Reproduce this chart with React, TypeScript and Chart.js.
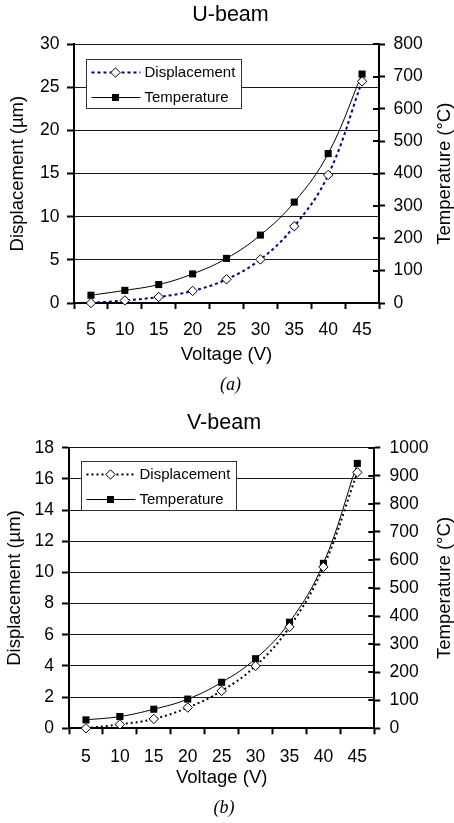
import React, { useEffect, useRef } from 'react';
import { Chart, registerables } from 'chart.js';

Chart.register(...registerables);

// Supply voltage categories shared by both beams
const voltageLabels = ['5', '10', '15', '20', '25', '30', '35', '40', '45'];

// U-beam actuator: tip displacement (µm) and peak temperature (°C)
const uBeamDisplacement = [0, 0.3, 0.7, 1.4, 2.75, 5.05, 8.9, 14.85, 25.7];
const uBeamTemperature = [24, 39, 57, 90, 138, 210, 312, 462, 708];

// V-beam actuator: tip displacement (µm) and peak temperature (°C)
const vBeamDisplacement = [0, 0.25, 0.6, 1.33, 2.4, 4.0, 6.5, 10.35, 16.42];
const vBeamTemperature = [30, 42, 68, 104, 164, 248, 378, 588, 944];

const SANS = '"Liberation Sans", Arial, Helvetica, sans-serif';
const SERIF = '"Liberation Serif", "Times New Roman", serif';

type Panel = {
  title: string;
  caption: string;
  displacement: number[];
  temperature: number[];
  dispMax: number;
  dispStep: number;
  tempMax: number;
  dispColor: string;
  dispDash: number[];
  top: number;
  height: number;
  padLeft: number;
  padRight: number;
  titlePad: { top: number; bottom: number };
  captionPad: { top: number; bottom: number };
  leftWidth: number;
  rightWidth: number;
  xHeight: number;
  leftTitlePad: number;
  leftTickPad: number;
  rightTickPad: number;
  xTickPad: number;
  xTitlePad: number;
  rightTitleX: number;
  legendDx: number;
  legendDy: number;
};

const panels: Panel[] = [
  {
    title: 'U-beam',
    caption: '(a)',
    displacement: uBeamDisplacement,
    temperature: uBeamTemperature,
    dispMax: 30,
    dispStep: 5,
    tempMax: 800,
    dispColor: '#000080',
    dispDash: [3, 3],
    top: 0,
    height: 410,
    padLeft: 7,
    padRight: 0,
    titlePad: { top: 2.1, bottom: 16.4 },
    captionPad: { top: 0, bottom: 13.5 },
    leftWidth: 67,
    rightWidth: 75,
    xHeight: 71.9,
    leftTitlePad: 0,
    leftTickPad: 7.6,
    rightTickPad: 8.6,
    xTickPad: 10.8,
    xTitlePad: 8.5,
    rightTitleX: 445,
    legendDx: 12,
    legendDy: 14.7,
  },
  {
    title: 'V-beam',
    caption: '(b)',
    displacement: vBeamDisplacement,
    temperature: vBeamTemperature,
    dispMax: 18,
    dispStep: 2,
    tempMax: 1000,
    dispColor: '#000000',
    dispDash: [2, 3],
    top: 410,
    height: 413,
    padLeft: 0,
    padRight: 6,
    titlePad: { top: 0, bottom: 11.9 },
    captionPad: { top: 0, bottom: 3.9 },
    leftWidth: 69,
    rightWidth: 73.7,
    xHeight: 69.2,
    leftTitlePad: 3.4,
    leftTickPad: 8,
    rightTickPad: 9.2,
    xTickPad: 12,
    xTitlePad: 8.1,
    rightTitleX: 445,
    legendDx: 11.7,
    legendDy: 13,
  },
];

const WIDTH = 454;

function drawDiamond(ctx: CanvasRenderingContext2D, x: number, y: number, r: number) {
  ctx.beginPath();
  ctx.moveTo(x, y - r);
  ctx.lineTo(x + r, y);
  ctx.lineTo(x, y + r);
  ctx.lineTo(x - r, y);
  ctx.closePath();
  ctx.fillStyle = '#fff';
  ctx.fill();
  ctx.strokeStyle = '#000';
  ctx.lineWidth = 1;
  ctx.stroke();
}

function drawSquare(ctx: CanvasRenderingContext2D, x: number, y: number, h: number) {
  ctx.fillStyle = '#000';
  ctx.fillRect(x - h, y - h, 2 * h, 2 * h);
}

function makeExtras(p: Panel) {
  return {
    id: 'beamExtras',
    afterDatasetsDraw(chart: any) {
      const ctx: CanvasRenderingContext2D = chart.ctx;
      const ca = chart.chartArea;
      const right = chart.scales.yTemp;

      // inner half of the cross ticks on the temperature axis
      ctx.save();
      ctx.strokeStyle = '#000';
      ctx.lineWidth = 2;
      right.ticks.forEach((_: any, i: number) => {
        const y = Math.round(right.getPixelForTick(i));
        ctx.beginPath();
        ctx.moveTo(ca.right - 6, y);
        ctx.lineTo(ca.right, y);
        ctx.stroke();
      });
      ctx.restore();

      // boxed legend inside the plot
      const bx = Math.round(ca.left + p.legendDx) + 0.5;
      const by = Math.round(ca.top + p.legendDy) + 0.5;
      const bw = 155;
      const bh = 49;
      ctx.save();
      ctx.fillStyle = '#fff';
      ctx.fillRect(bx, by, bw, bh);
      ctx.strokeStyle = '#333';
      ctx.lineWidth = 1;
      ctx.strokeRect(bx, by, bw, bh);
      const rows = [13, 38];
      chart.data.datasets.forEach((ds: any, i: number) => {
        const y = by + rows[i];
        ctx.save();
        ctx.strokeStyle = ds.borderColor;
        ctx.lineWidth = ds.borderWidth;
        ctx.setLineDash(ds.borderDash || []);
        ctx.beginPath();
        ctx.moveTo(bx + 5, y);
        ctx.lineTo(bx + 54, y);
        ctx.stroke();
        ctx.restore();
        if (ds.pointStyle === 'rectRot') drawDiamond(ctx, bx + 29, y, 4.7);
        else drawSquare(ctx, bx + 29, y, 3.5);
        ctx.fillStyle = '#000';
        ctx.font = `15px ${SANS}`;
        ctx.textAlign = 'left';
        ctx.textBaseline = 'middle';
        ctx.fillText(ds.label, bx + 58, y + 0.5);
      });
      ctx.restore();

      // right-hand axis title, reading bottom to top
      ctx.save();
      ctx.translate(p.rightTitleX, (ca.top + ca.bottom) / 2);
      ctx.rotate(-Math.PI / 2);
      ctx.fillStyle = '#000';
      ctx.font = `18.5px ${SANS}`;
      ctx.textAlign = 'center';
      ctx.textBaseline = 'middle';
      ctx.fillText('Temperature (°C)', 0, 0);
      ctx.restore();
    },
  };
}

const plainNumber = (v: any) => String(v);

function BeamChart({ p }: { p: Panel }) {
  const ref = useRef<HTMLCanvasElement | null>(null);

  useEffect(() => {
    if (!ref.current) return;
    const tickFont = { family: SANS, size: 17.5 };
    const axisTitleFont = { family: SANS, size: 18.5 };
    const chart = new Chart(ref.current, {
      type: 'line',
      data: {
        labels: voltageLabels,
        datasets: [
          {
            label: 'Displacement',
            data: p.displacement,
            yAxisID: 'yDisp',
            borderColor: p.dispColor,
            borderWidth: 2,
            borderDash: p.dispDash,
            tension: 0.4,
            pointStyle: 'rectRot',
            pointRadius: 4.7,
            pointBackgroundColor: '#fff',
            pointBorderColor: '#000',
            pointBorderWidth: 1,
            clip: false,
          },
          {
            label: 'Temperature',
            data: p.temperature,
            yAxisID: 'yTemp',
            borderColor: '#000',
            borderWidth: 1,
            tension: 0.4,
            pointStyle: 'rect',
            pointRadius: 5,
            pointBackgroundColor: '#000',
            pointBorderColor: '#000',
            pointBorderWidth: 0,
            clip: false,
          },
        ],
      },
      options: {
        responsive: false,
        animation: false,
        events: [],
        layout: { padding: { left: p.padLeft, right: p.padRight, top: 0, bottom: 0 } },
        plugins: {
          legend: { display: false },
          tooltip: { enabled: false },
          title: {
            display: true,
            text: p.title,
            color: '#000',
            font: { family: SANS, size: 21.5, weight: 'normal' },
            padding: p.titlePad,
          },
          subtitle: {
            display: true,
            position: 'bottom',
            text: p.caption,
            color: '#000',
            font: { family: SERIF, size: 18, style: 'italic', weight: 'normal' },
            padding: p.captionPad,
          },
        },
        scales: {
          x: {
            type: 'category',
            offset: true,
            grid: {
              display: true,
              offset: true,
              drawOnChartArea: false,
              drawTicks: true,
              tickLength: 6,
              tickColor: '#000',
              tickWidth: 2,
            },
            border: { display: true, color: '#000', width: 2 },
            ticks: { color: '#000', font: tickFont, padding: p.xTickPad, maxRotation: 0, autoSkip: false },
            title: {
              display: true,
              text: 'Voltage (V)',
              color: '#000',
              font: axisTitleFont,
              padding: { top: 0, bottom: p.xTitlePad },
            },
            afterFit: (s: any) => {
              s.height = p.xHeight;
            },
          },
          yDisp: {
            type: 'linear',
            position: 'left',
            min: 0,
            max: p.dispMax,
            ticks: {
              stepSize: p.dispStep,
              color: '#000',
              font: tickFont,
              padding: p.leftTickPad,
              callback: plainNumber,
            },
            grid: {
              color: '#1a1a1a',
              lineWidth: 1,
              drawTicks: true,
              tickLength: 7,
              tickColor: '#000',
              tickWidth: 2,
            },
            border: { display: true, color: '#000', width: 2 },
            title: {
              display: true,
              text: 'Displacement (µm)',
              color: '#000',
              font: axisTitleFont,
              padding: { top: p.leftTitlePad, bottom: 0 },
            },
            afterFit: (s: any) => {
              s.width = p.leftWidth;
            },
          },
          yTemp: {
            type: 'linear',
            position: 'right',
            min: 0,
            max: p.tempMax,
            ticks: {
              stepSize: 100,
              color: '#000',
              font: tickFont,
              padding: p.rightTickPad,
              callback: plainNumber,
            },
            grid: {
              drawOnChartArea: false,
              drawTicks: true,
              tickLength: 6,
              tickColor: '#000',
              tickWidth: 2,
            },
            border: { display: true, color: '#000', width: 2 },
            afterFit: (s: any) => {
              s.width = p.rightWidth;
            },
          },
        },
      } as any,
      plugins: [makeExtras(p)],
    });
    return () => chart.destroy();
  }, [p]);

  return (
    <div style={{ position: 'absolute', left: 0, top: p.top, width: WIDTH, height: p.height }}>
      <canvas ref={ref} width={WIDTH} height={p.height} style={{ width: WIDTH, height: p.height, display: 'block' }} />
    </div>
  );
}

export default function App() {
  return (
    <div style={{ position: 'absolute', left: 0, top: 0, width: WIDTH, height: 823, background: '#fff' }}>
      {panels.map((p) => (
        <BeamChart key={p.title} p={p} />
      ))}
    </div>
  );
}
